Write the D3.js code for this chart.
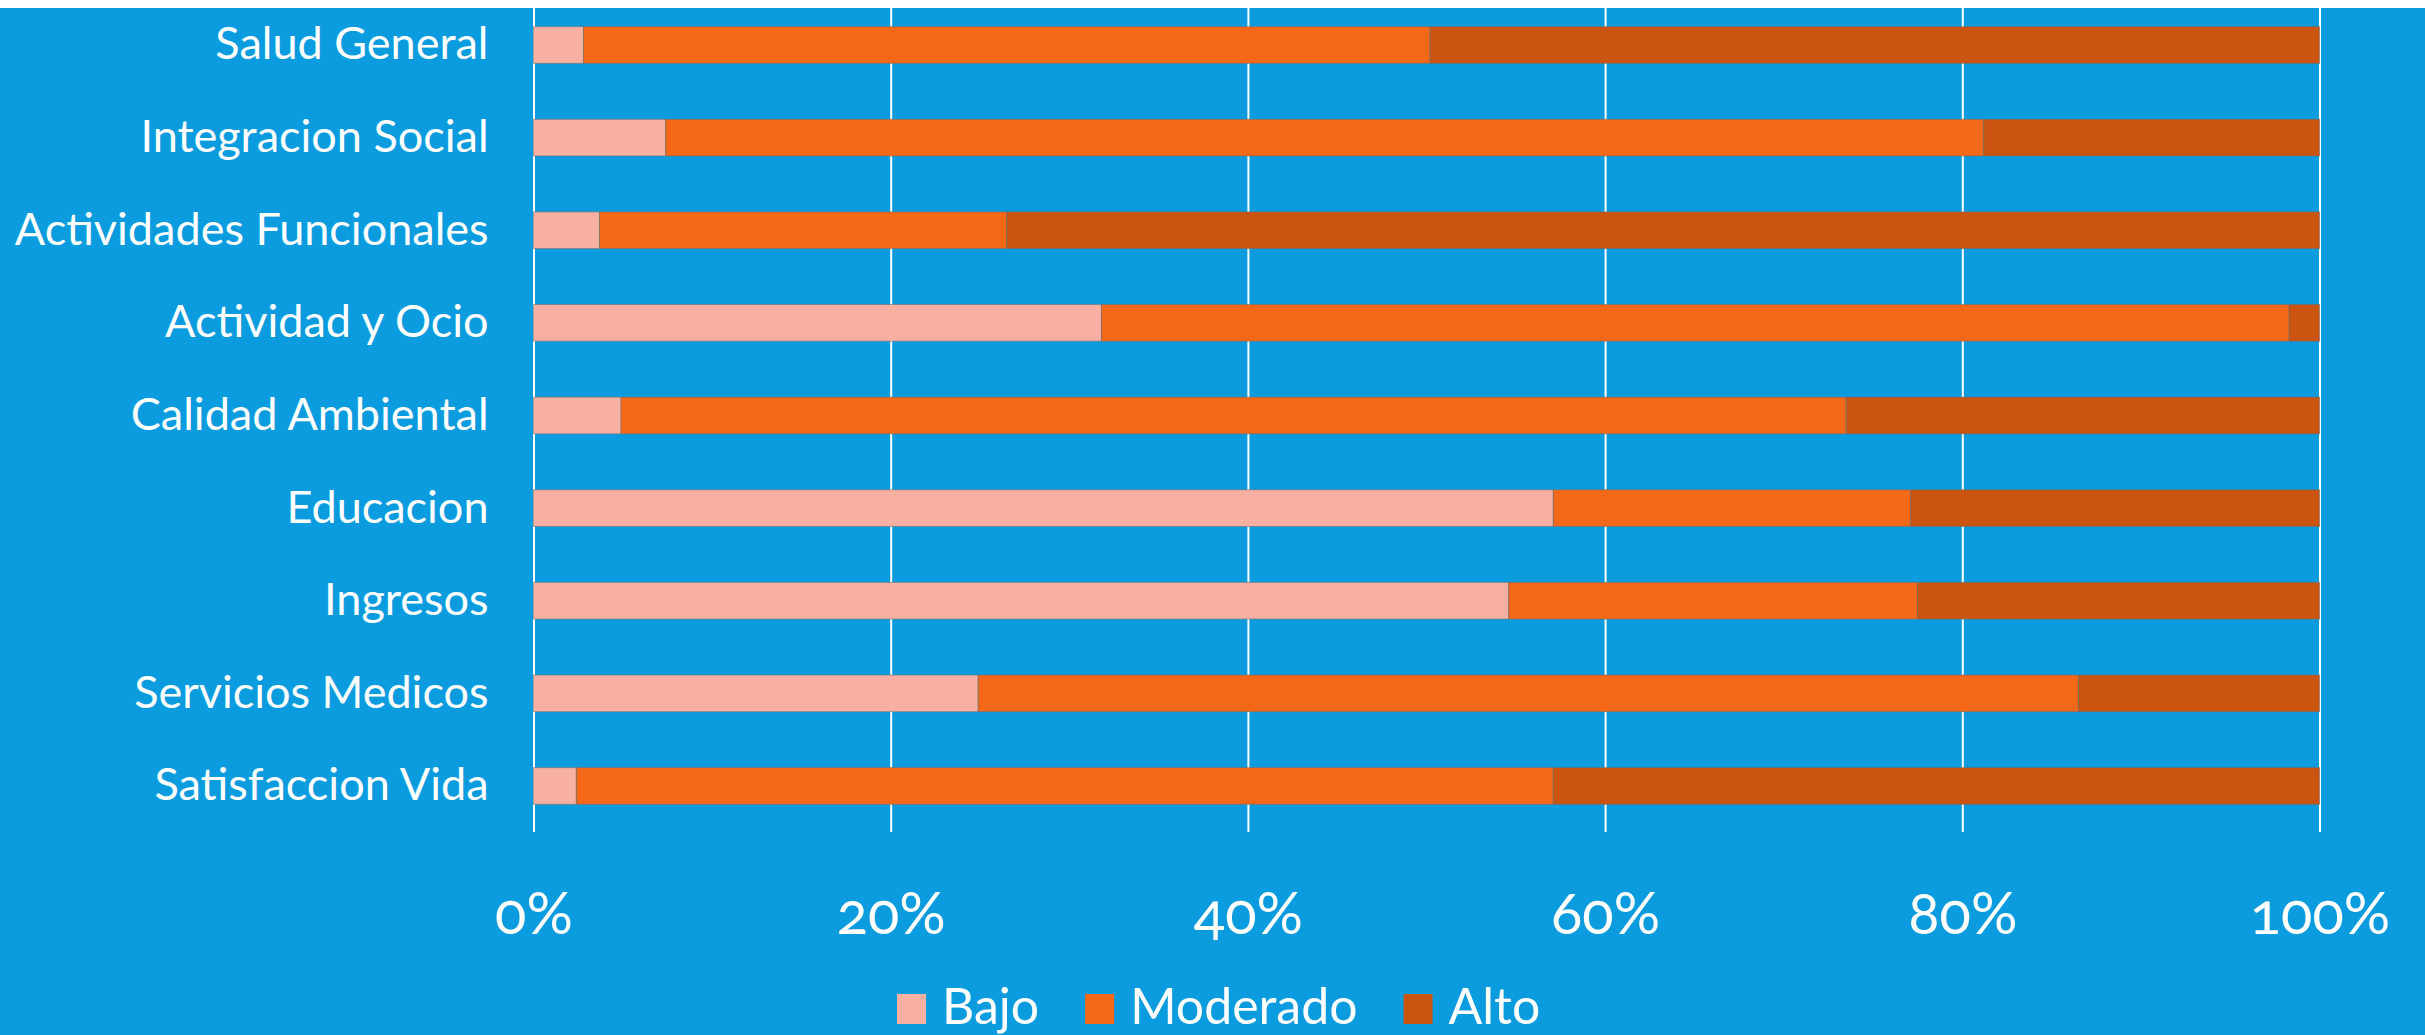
<!DOCTYPE html>
<html>
<head>
<meta charset="utf-8">
<script src="https://cdn.jsdelivr.net/npm/d3@7"></script>
<style>
  body { margin: 0; background: #fff; overflow: hidden; }
  text { font-family: Lato, "Open Sans", sans-serif; fill: #fff; }
</style>
</head>
<body>
<div id="chart"></div>
<script>
// data (percent of each row)
var categories = ["Salud General", "Integracion Social", "Actividades Funcionales",
  "Actividad y Ocio", "Calidad Ambiental", "Educacion", "Ingresos",
  "Servicios Medicos", "Satisfaccion Vida"];
var bajo     = [2.8, 7.4, 3.7, 31.8, 4.9, 57.1, 54.6, 24.9, 2.4];
var moderado = [47.4, 73.8, 22.8, 66.5, 68.6, 20.0, 22.9, 61.6, 54.7];
var alto     = [49.8, 18.8, 73.5, 1.7, 26.5, 22.9, 22.5, 13.5, 42.9];
var seriesNames = ["Bajo", "Moderado", "Alto"];
var seriesColors = ["#f8b0a2", "#f56818", "#ca5410"];
var tickValues = [0, 20, 40, 60, 80, 100];
var tickLabels = ["0%", "20%", "40%", "60%", "80%", "100%"];

var width = 2425, height = 1035;

var rows = categories.map(function(c, i) {
  return {cat: c, Bajo: bajo[i], Moderado: moderado[i], Alto: alto[i]};
});

var svg = d3.select("#chart")
  .append("svg")
    .attr("width", width)
    .attr("height", height);

// blue background (thin white strip at top)
svg.append("rect")
  .attr("x", 0).attr("y", 8)
  .attr("width", width).attr("height", height - 8)
  .attr("fill", "#0b9cdf");

var x = d3.scaleLinear()
  .domain([0, 100])
  .range([533.5, 2319.5]);

var y = d3.scaleBand()
  .domain(categories)
  .range([-1.3, 832.3])
  .paddingInner(0.604)
  .paddingOuter(0.302);

// gridlines
var grid = svg.append("g")
  .attr("transform", "translate(0,832)")
  .call(d3.axisBottom(x).tickValues(tickValues).tickSize(-824).tickFormat(""));
grid.select(".domain").remove();
grid.selectAll("line").attr("stroke", "#fff").attr("stroke-width", 2);

// stacked bars
var stack = d3.stack().keys(seriesNames);
var layers = svg.append("g")
  .selectAll("g")
  .data(stack(rows))
  .enter()
  .append("g")
    .attr("fill", function(d, i) { return seriesColors[i]; });

layers.selectAll("rect")
  .data(function(d) { return d; })
  .enter()
  .append("rect")
    .attr("x", function(d) { return x(d[0]); })
    .attr("width", function(d) { return x(d[1]) - x(d[0]); })
    .attr("y", function(d) { return y(d.data.cat); })
    .attr("height", y.bandwidth())
    .attr("stroke", "rgba(110,110,110,0.55)")
    .attr("stroke-width", 1);

// x tick labels
var xAxis = svg.append("g")
  .call(d3.axisBottom(x).tickValues(tickValues)
    .tickFormat(function(d, i) { return tickLabels[i]; }).tickSize(0));
xAxis.select(".domain").remove();
xAxis.selectAll("text")
  .attr("y", 934).attr("dy", 0)
  .style("font-size", "58px")
  .style("font-feature-settings", "'onum'")
  .attr("fill", "#fff");

// y category labels
var yAxis = svg.append("g")
  .attr("transform", "translate(533.5,0)")
  .call(d3.axisLeft(y).tickSize(0).tickPadding(45));
yAxis.select(".domain").remove();
yAxis.selectAll("text")
  .style("font-size", "45px")
  .attr("fill", "#fff");

// legend
var legend = svg.append("g");
var lx = 897;
seriesNames.forEach(function(name, i) {
  legend.append("rect")
    .attr("x", lx).attr("y", 994)
    .attr("width", 29).attr("height", 30)
    .attr("fill", seriesColors[i]);
  var t = legend.append("text")
    .attr("x", lx + 45).attr("y", 1024)
    .style("font-size", "50px")
    .text(name);
  lx = lx + 45 + t.node().getComputedTextLength() + 46;
});
</script>
</body>
</html>
